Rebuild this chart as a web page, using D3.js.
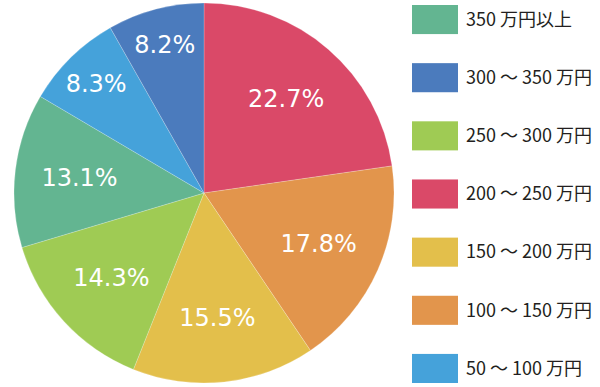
<!DOCTYPE html>
<html>
<head>
<meta charset="utf-8">
<script src="https://cdn.jsdelivr.net/npm/d3@7"></script>
<style>
  body { margin: 0; background: #fff; }
</style>
</head>
<body>
<svg width="600" height="387"></svg>
<script>
// categories in legend order (top to bottom)
var categories = ['350 万円以上', '300 ～ 350 万円', '250 ～ 300 万円', '200 ～ 250 万円', '150 ～ 200 万円', '100 ～ 150 万円', '50 ～ 100 万円'];
var colors = ['#63b591', '#4b7bbd', '#9fcb54', '#da4968', '#e3bf4b', '#e2954c', '#45a2da'];

// pie slices clockwise from 12 o'clock
var sliceOrder = ['200 ～ 250 万円', '100 ～ 150 万円', '150 ～ 200 万円', '250 ～ 300 万円', '350 万円以上', '50 ～ 100 万円', '300 ～ 350 万円'];
var shares = [22.7, 17.8, 15.5, 14.3, 13.1, 8.3, 8.2];

var svg = d3.select('svg');
var cx = 204, cy = 193, r = 190;

var color = d3.scaleOrdinal().domain(categories).range(colors);

var slices = sliceOrder.map(function(c, i) { return { cat: c, value: shares[i] }; });

var pie = d3.pie()
	.sort(null)
	.value(function(d) { return d.value; });

var arc = d3.arc().innerRadius(0).outerRadius(r);

var g = svg.append('g').attr('transform', 'translate(' + cx + ',' + cy + ')');

var arcs = pie(slices);

g.selectAll('path')
	.data(arcs)
	.enter()
	.append('path')
	.attr('d', arc)
	.attr('fill', function(d) { return color(d.data.cat); })
	.attr('stroke', 'rgba(255,255,255,0.35)')
	.attr('stroke-width', 0.6);

// small slices get their label pushed out towards the rim
g.selectAll('text')
	.data(arcs)
	.enter()
	.append('text')
	.attr('transform', function(d) {
		var k = d.data.value < 10 ? 0.81 : 0.66;
		var la = d3.arc().innerRadius(r * k).outerRadius(r * k);
		return 'translate(' + la.centroid(d) + ')';
	})
	.attr('text-anchor', 'middle')
	.attr('dy', '0.36em')
	.attr('fill', '#fff')
	.style('font-family', '"DejaVu Sans", Verdana, sans-serif')
	.style('font-size', '24px')
	.text(function(d) { return d.data.value.toFixed(1) + '%'; });

// legend
var y = d3.scaleBand().domain(categories).range([5, 383]).paddingInner(0.5).paddingOuter(0);

var legend = svg.append('g');

var items = legend.selectAll('g')
	.data(categories)
	.enter()
	.append('g')
	.attr('transform', function(d) { return 'translate(412,' + y(d) + ')'; });

items.append('rect')
	.attr('width', 46)
	.attr('height', y.bandwidth())
	.attr('fill', function(d) { return color(d); });

items.append('text')
	.attr('x', 54)
	.attr('y', y.bandwidth() / 2)
	.attr('dy', '0.35em')
	.attr('fill', '#231f20')
	.style('font-family', '"Noto Sans CJK JP", "Noto Sans", sans-serif')
	.style('font-size', '18px')
	.text(function(d) { return d; });
</script>
</body>
</html>
